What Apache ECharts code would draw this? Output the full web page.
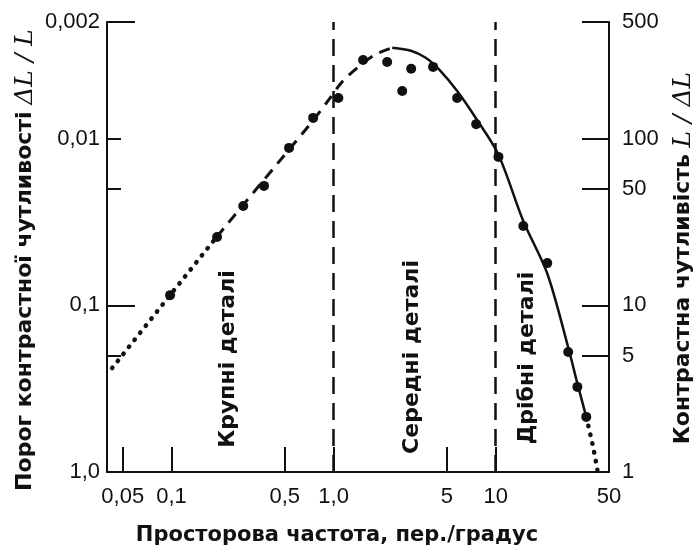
<!DOCTYPE html>
<html>
<head>
<meta charset="utf-8">
<script src="https://cdn.jsdelivr.net/npm/echarts@6/dist/echarts.min.js"></script>
<style>
html,body{margin:0;padding:0;background:#fff}
#chart{width:699px;height:551px}
</style>
</head>
<body>
<div id="chart"></div>
<script>
// значення: частота (пер./градус) -> контрастна чутливість L/dL
var pointFreq = [0.098, 0.191, 0.277, 0.372, 0.531, 0.748, 1.07, 1.52, 2.14, 2.65, 3.01, 4.11, 5.78, 7.58, 10.4, 14.8, 20.8, 28.0, 31.9, 36.2];
var pointSens = [11.5, 25.7, 39.4, 52, 87.9, 133, 175, 296, 288, 193, 262, 269, 175, 122, 77.6, 29.9, 17.9, 5.25, 3.24, 2.14];

// крива: пунктир зліва, штрих, суцільна, пунктир справа
var lowFreq = [0.043, 0.098, 0.19];
var lowSens = [4.2, 11.5, 25.7];
var midFreq = [0.19, 0.5, 0.75, 0.93, 1.13, 1.42, 1.8, 2.3];
var midSens = [25.7, 80, 129, 170, 219, 269, 318, 350];
var highFreq = [2.3, 3.0, 3.7, 4.5, 5.8, 7.6, 10.4, 14.8, 20.8, 28, 31.9, 36.2];
var highSens = [350, 336, 305, 258, 192, 131, 80, 32, 15.5, 5.6, 3.4, 2.14];
var tailFreq = [36.2, 38, 40, 42.4];
var tailSens = [2.14, 1.75, 1.4, 1.03];

// зони
var zoneBorders = [1, 10];

// підписи осей
var xTickVals = [0.05, 0.1, 0.5, 1, 5, 10];
var xLabelVals = [0.05, 0.1, 0.5, 1, 5, 10, 50];
var xLabelText = ['0,05', '0,1', '0,5', '1,0', '5', '10', '50'];
var leftLabelVals = [500, 100, 10, 1];
var leftLabelText = ['0,002', '0,01', '0,1', '1,0'];
var leftLongTicks = [500, 10];
var leftShortTicks = [100, 50, 5];
var rightTickVals = [500, 100, 50, 10, 5];
var rightLabelVals = [500, 100, 50, 10, 5, 1];
var rightLabelText = ['500', '100', '50', '10', '5', '1'];

function zip(a, b){
    var out = [];
    for (var i = 0; i < a.length; i++) out.push([a[i], b[i]]);
    return out;
}
function pick(vals, texts){
    return function(v){
        var best = 0, d = 1e9;
        for (var i = 0; i < vals.length; i++) {
            var dd = Math.abs(Math.log(v) - Math.log(vals[i]));
            if (dd < d) { d = dd; best = i; }
        }
        return texts[best];
    };
}

var ink = '#111';
var numFont = "'Liberation Sans Narrow', 'Liberation Sans', Arial, sans-serif";
var titleFont = "'DejaVu Sans', sans-serif";
var dotted = {color: ink, width: 4.5, type: [0.5, 8.5], cap: 'round'};

var myChart = echarts.init(document.getElementById('chart'));
var option = {
    animation: false,
    backgroundColor: '#fff',
    grid: {left: 107, right: 90, top: 22, bottom: 79},
    xAxis: {
        type: 'log', logBase: 10, min: 0.04, max: 50,
        axisLine: {show: true, lineStyle: {color: ink, width: 2}},
        axisTick: {show: true, inside: true, length: 25, customValues: xTickVals, lineStyle: {color: ink, width: 2}},
        axisLabel: {customValues: xLabelVals, formatter: pick(xLabelVals, xLabelText), margin: 14,
            color: ink, fontSize: 22, fontFamily: numFont},
        splitLine: {show: false},
        minorTick: {show: false}
    },
    yAxis: [
        {
            type: 'log', logBase: 10, min: 1, max: 500, position: 'left',
            axisLine: {show: true, lineStyle: {color: ink, width: 2}},
            axisTick: {show: true, inside: true, length: 28, customValues: leftLongTicks, lineStyle: {color: ink, width: 2}},
            axisLabel: {customValues: leftLabelVals, formatter: pick(leftLabelVals, leftLabelText), margin: 7,
                color: ink, fontSize: 22, fontFamily: numFont},
            splitLine: {show: false}
        },
        {
            type: 'log', logBase: 10, min: 1, max: 500, position: 'left',
            axisLine: {show: false},
            axisTick: {show: true, inside: true, length: 14, customValues: leftShortTicks, lineStyle: {color: ink, width: 2}},
            axisLabel: {show: false},
            splitLine: {show: false}
        },
        {
            type: 'log', logBase: 10, min: 1, max: 500, position: 'right',
            axisLine: {show: true, lineStyle: {color: ink, width: 2}},
            axisTick: {show: true, inside: true, length: 27, customValues: rightTickVals, lineStyle: {color: ink, width: 2}},
            axisLabel: {customValues: rightLabelVals, formatter: pick(rightLabelVals, rightLabelText), margin: 13,
                color: ink, fontSize: 22, fontFamily: numFont},
            splitLine: {show: false}
        }
    ],
    series: [
        {
            type: 'line', data: zip(lowFreq, lowSens), showSymbol: false,
            lineStyle: dotted
        },
        {
            type: 'line', data: zip(midFreq, midSens), showSymbol: false, smooth: 0.3,
            lineStyle: {color: ink, width: 3, type: [11, 8]}
        },
        {
            type: 'line', data: zip(highFreq, highSens), showSymbol: false, smooth: 0.3,
            lineStyle: {color: ink, width: 2.5}
        },
        {
            type: 'line', data: zip(tailFreq, tailSens), showSymbol: false,
            lineStyle: dotted
        },
        {
            type: 'scatter', data: zip(pointFreq, pointSens), symbolSize: 10,
            itemStyle: {color: ink, opacity: 1},
            markLine: {
                silent: true, symbol: 'none', label: {show: false},
                lineStyle: {color: ink, width: 2.5, type: [17, 9]},
                data: zoneBorders.map(function(v){ return {xAxis: v}; })
            }
        }
    ],
    graphic: [
        {type: 'text', x: 25, y: 260, rotation: Math.PI / 2,
            style: {text: '{a|Порог контрастної чутливості}  {m|ΔL / L}', align: 'center', verticalAlign: 'middle',
                rich: {a: {fontSize: 22, fontWeight: 'bold', fontFamily: titleFont, fill: ink},
                       m: {fontSize: 25, fontStyle: 'italic', fontFamily: "'DejaVu Serif', serif", fill: ink}}}},
        {type: 'text', x: 683, y: 258, rotation: Math.PI / 2,
            style: {text: '{a|Контрастна чутливість}  {m|L / ΔL}', align: 'center', verticalAlign: 'middle',
                rich: {a: {fontSize: 22, fontWeight: 'bold', fontFamily: titleFont, fill: ink},
                       m: {fontSize: 25, fontStyle: 'italic', fontFamily: "'DejaVu Serif', serif", fill: ink}}}},
        {type: 'text', x: 337, y: 536,
            style: {text: 'Просторова частота, пер./градус', align: 'center', verticalAlign: 'middle',
                fontSize: 21, fontWeight: 'bold', fontFamily: titleFont, fill: ink}},
        {type: 'text', x: 228, y: 359, rotation: Math.PI / 2,
            style: {text: 'Крупні деталі', align: 'center', verticalAlign: 'middle',
                fontSize: 22, fontWeight: 'bold', fontFamily: titleFont, fill: ink}},
        {type: 'text', x: 412, y: 357, rotation: Math.PI / 2,
            style: {text: 'Середні деталі', align: 'center', verticalAlign: 'middle',
                fontSize: 22, fontWeight: 'bold', fontFamily: titleFont, fill: ink}},
        {type: 'text', x: 527, y: 358, rotation: Math.PI / 2,
            style: {text: 'Дрібні деталі', align: 'center', verticalAlign: 'middle',
                fontSize: 22, fontWeight: 'bold', fontFamily: titleFont, fill: ink}}
    ]
};
myChart.setOption(option);
</script>
</body>
</html>
